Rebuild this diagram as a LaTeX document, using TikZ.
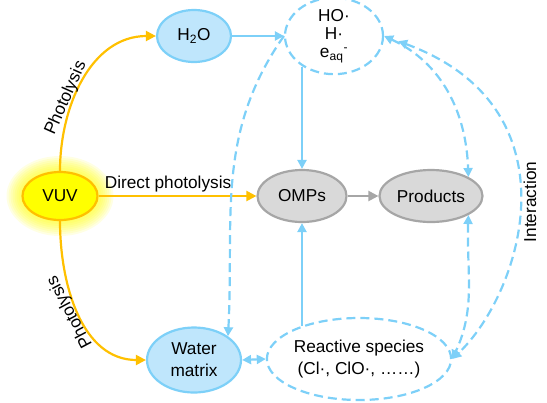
\documentclass[tikz,border=0pt]{standalone}
\usepackage{fontspec}
\setmainfont{Liberation Sans}
\usetikzlibrary{shapes.geometric,arrows.meta}
\definecolor{uvorange}{HTML}{FFC000}
\definecolor{uvyellow}{HTML}{FFFF00}
\definecolor{skyline}{HTML}{7DD0F8}
\definecolor{skyfill}{HTML}{BFE6FC}
\definecolor{ompfill}{HTML}{D9D9D9}
\definecolor{ompline}{HTML}{A6A6A6}
\tikzset{
	oval/.style={ellipse, inner sep=0pt, line width=2.2bp, align=center},
	waterbox/.style={oval, draw=skyline, fill=skyfill},
	radbox/.style={oval, draw=skyline, dash pattern=on 9bp off 5bp},
	ompbox/.style={oval, draw=ompline, fill=ompfill},
	uvarrow/.style={draw=uvorange, line width=2.2bp, -{Triangle[length=10bp,width=10bp]}},
	skyarrow/.style={draw=skyline, line width=2.2bp, -{Triangle[length=9bp,width=9bp]}},
	skyboth/.style={skyarrow, {Triangle[length=9bp,width=9bp]}-{Triangle[length=9bp,width=9bp]}},
	skydash/.style={skyarrow, dash pattern=on 9bp off 5bp},
	skydashboth/.style={skyboth, dash pattern=on 9bp off 5bp},
	grayarrow/.style={draw=ompline, line width=2.2bp, -{Triangle[length=10bp,width=10bp]}}
}
\begin{document}
\begin{tikzpicture}[x=1bp,y=1bp,font=\fontsize{17.3}{21}\selectfont]
	\useasboundingbox (0,0) rectangle (547,-402);
	% glow round the lamp
	\coordinate (vuvc) at (60,-196);
	\foreach \g in {16,14,...,2}
		\fill[uvyellow, opacity=0.11] (vuvc) ellipse [x radius=37.5+\g, y radius=24+\g];
	\node[oval, draw=uvorange, fill=uvyellow, minimum width=75bp, minimum height=48bp] (vuv) at (vuvc) {VUV};
	\node[waterbox, minimum width=74bp, minimum height=52bp] (h2o) at (194,-36) {H\textsubscript{2}O};
	\node[radbox, minimum width=98bp, minimum height=68bp, font=\fontsize{17.3}{18.5}\selectfont] (rad) at (334,-36) {HO·\\H·\\e\textsubscript{aq}\textsuperscript{-}};
	\node[ompbox, minimum width=89bp, minimum height=52bp] (omps) at (302,-196) {OMPs};
	\node[ompbox, minimum width=103bp, minimum height=52bp] (prod) at (431,-196) {Products};
	\node[waterbox, minimum width=94bp, minimum height=65bp, font=\fontsize{17.3}{22}\selectfont] (wm) at (194,-360) {Water\\matrix};
	\node[radbox, minimum width=163bp, minimum height=82bp, font=\fontsize{17.3}{22}\selectfont] (rs) at (359,-359) {Reactive species\\(Cl·, ClO·, ……)};
	\node[rotate=90] (inter) at (530,-202) {Interaction};
	% photolysis
	\draw[uvarrow] (vuv.north) to[out=90,in=180] (h2o.west);
	\node[rotate=66] (photoup) at (66,-98) {Photolysis};
	\draw[uvarrow] (vuv.south) to[out=-90,in=180] (wm.west);
	\node[rotate=118] (photodown) at (70,-312) {Photolysis};
	\draw[uvarrow] (vuv.east) -- (omps.west) node[pos=.44, above] (direct) {Direct photolysis};
	% species
	\draw[skyarrow] (h2o.east) -- (rad.west);
	\draw[skyarrow] (omps.north |- rad.-135) -- (omps.north);
	\draw[skyarrow] (omps.south |- rs.150) -- (omps.south);
	\draw[skyboth] (wm.east) -- (rs.west);
	\draw[grayarrow] (omps.east) -- (prod.west);
	% interaction
	\draw[skydash] (rad.west) to[out=-125,in=87] (wm.35);
	\draw[skydashboth] (rad.east) to[out=-25,in=92] (prod.27);
	\draw[skydashboth, shorten <=15bp] (rad.east) .. controls (580,-108) and (522,-293) .. (rs.east);
	\draw[skydashboth] (prod.-27) to[out=-92,in=65] (rs.east);
\end{tikzpicture}
\end{document}
